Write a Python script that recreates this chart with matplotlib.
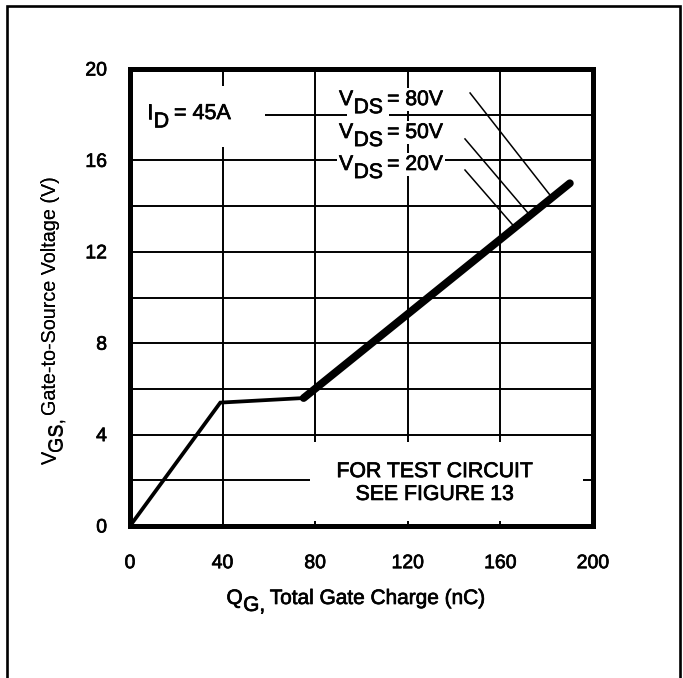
import numpy as np
import matplotlib
matplotlib.use("Agg")
import matplotlib.pyplot as plt
import matplotlib.patheffects as pe
from matplotlib.patches import Rectangle
from matplotlib.lines import Line2D
from matplotlib.transforms import IdentityTransform

plt.rcParams['font.family'] = ['Liberation Sans', 'DejaVu Sans']

# Gate charge curve, I_D = 45 A
qg_nc = [0, 39, 75, 190]
vgs_v = [0, 5.4, 5.6, 15.0]
band_start = 2          # from here on the three V_DS curves overlap as one band

# V_DS call-outs
vds_labels = ["80V", "50V", "20V"]
vds_label_x = 90.3
vds_label_y = [18.42, 16.98, 15.58]
leader_start_x = [146.9, 144.7, 144.7]
leader_start_y = [18.95, 16.94, 15.58]
leader_end_x = [182.3, 172.8, 166.3]

# Axes ticks
xticks = [0, 40, 80, 120, 160, 200]
xtick_labels = ['0', '40', '80', '120', '160', '200']
yticks = [0, 2, 4, 6, 8, 10, 12, 14, 16, 18, 20]
ytick_labels = ['0', '', '4', '', '8', '', '12', '', '16', '', '20']

INK = [pe.withStroke(linewidth=0.5, foreground='black')]

W, H = 683, 678
fig = plt.figure(figsize=(W / 100, H / 100), dpi=100)
ax = fig.add_axes([130 / W, 152 / H, 463 / W, 457 / H])
ax.set_xlim(0, 200)
ax.set_ylim(0, 20)

ax.set_xticks(xticks)
ax.set_xticklabels(xtick_labels)
ax.set_yticks(yticks)
ax.set_yticklabels(ytick_labels)
ax.tick_params(axis='both', length=0, labelsize=14)
ax.tick_params(axis='x', pad=21)
ax.tick_params(axis='y', pad=16.5)
for lbl in ax.get_xticklabels() + ax.get_yticklabels():
    lbl.set_path_effects(INK)
ax.set_axisbelow(True)
ax.grid(True, color='black', linewidth=1.4)
for sp in ax.spines.values():
    sp.set_linewidth(3.6)
    sp.set_color('black')

# blank areas behind the annotations
ax.add_patch(Rectangle((0, 16.6), 58.3, 2.66, facecolor='white', edgecolor='none', zorder=1))
ax.add_patch(Rectangle((77.8, 0.2), 117.9, 3.48, facecolor='white', edgecolor='none', zorder=1))

# gate charge curve
ax.plot(qg_nc[:band_start + 1], vgs_v[:band_start + 1], color='black', lw=2.7,
        solid_joinstyle='miter', zorder=3)
ax.plot(qg_nc[band_start:], vgs_v[band_start:], color='black', lw=5.6,
        solid_capstyle='round', zorder=3)

# leader lines from the V_DS labels to the curve
for xs, ys, xe in zip(leader_start_x, leader_start_y, leader_end_x):
    ye = np.interp(xe, qg_nc, vgs_v)
    ax.plot([xs, xe], [ys, ye], color='black', lw=1.1, zorder=2.8)

for txt, ty in [("FOR TEST CIRCUIT", 2.14), ("SEE FIGURE 13", 1.14)]:
    ax.text(131.6, ty, txt, ha='center', va='baseline', fontsize=15.3, zorder=4,
            path_effects=INK)

renderer = fig.canvas.get_renderer()
PX = fig.dpi / 72.0


def text_width(s, size):
    probe = fig.text(0, 0, s, fontsize=size)
    w = probe.get_window_extent(renderer).width
    probe.remove()
    return w


def draw_runs(x, y, runs, size, rotation=0, drop=5.5, boxed=False, center=False):
    """Lay out text runs along a baseline; subscript runs are lowered by `drop` points."""
    ang = np.deg2rad(rotation)
    ux, uy = np.cos(ang), np.sin(ang)
    dx, dy = np.sin(ang), -np.cos(ang)
    widths = [text_width(s, size) for s, _, _ in runs]
    total = sum(widths) + sum(g for _, _, g in runs) * PX
    pos = -total / 2 if center else 0.0
    for (s, sub, gap), w in zip(runs, widths):
        off = drop * PX if sub else 0.0
        px = x + ux * pos + dx * off
        py = y + uy * pos + dy * off
        kw = dict(transform=IdentityTransform(), rotation=rotation,
                  rotation_mode='anchor', ha='left', va='baseline', fontsize=size)
        if boxed:
            pad = 0.3 if sub else 0.08
            fig.text(px, py, s, color='none', zorder=4.5,
                     bbox=dict(boxstyle=f'square,pad={pad}', facecolor='white',
                               edgecolor='none'), **kw)
        if rotation == 0:
            fig.text(px, py, s, zorder=5, path_effects=INK, **kw)
        else:
            # rotated text: double strike for the same heavier stroke
            fig.text(px, py, s, zorder=5, **kw)
            fig.text(px + dx * 0.5, py + dy * 0.5, s, zorder=5, **kw)
        pos += w + gap * PX


# I_D label
X, Y = ax.transData.transform((7.3, 17.81))
draw_runs(X, Y, [("I", False, 0.5), ("D", True, 3.5), ("= 45A", False, 0)], 15.5, drop=6)

# V_DS labels
for lab, ly in zip(vds_labels, vds_label_y):
    X, Y = ax.transData.transform((vds_label_x, ly))
    draw_runs(X, Y, [("V", False, 0.3), ("DS", True, 3.0), ("= " + lab, False, 0)],
              15.2, drop=5.8, boxed=True)

# axis titles
draw_runs(356, H - 604, [("Q", False, 0.3), ("G,", True, 3.5),
                         ("Total Gate Charge (nC)", False, 0)], 15, drop=5, center=True)
draw_runs(56, H - 320, [("V", False, 0.3), ("GS,", True, 1.5),
                        ("Gate-to-Source Voltage (V)", False, 0)], 14.2, rotation=90,
          drop=4, center=True)

# outer frame
fig.add_artist(Line2D([7 / W, 7 / W, 680 / W, 680 / W], [0, 1 - 6 / H, 1 - 6 / H, 0],
                      transform=fig.transFigure, color='black', lw=1.9,
                      solid_joinstyle='miter'))

fig.savefig("out.png", dpi=100)
